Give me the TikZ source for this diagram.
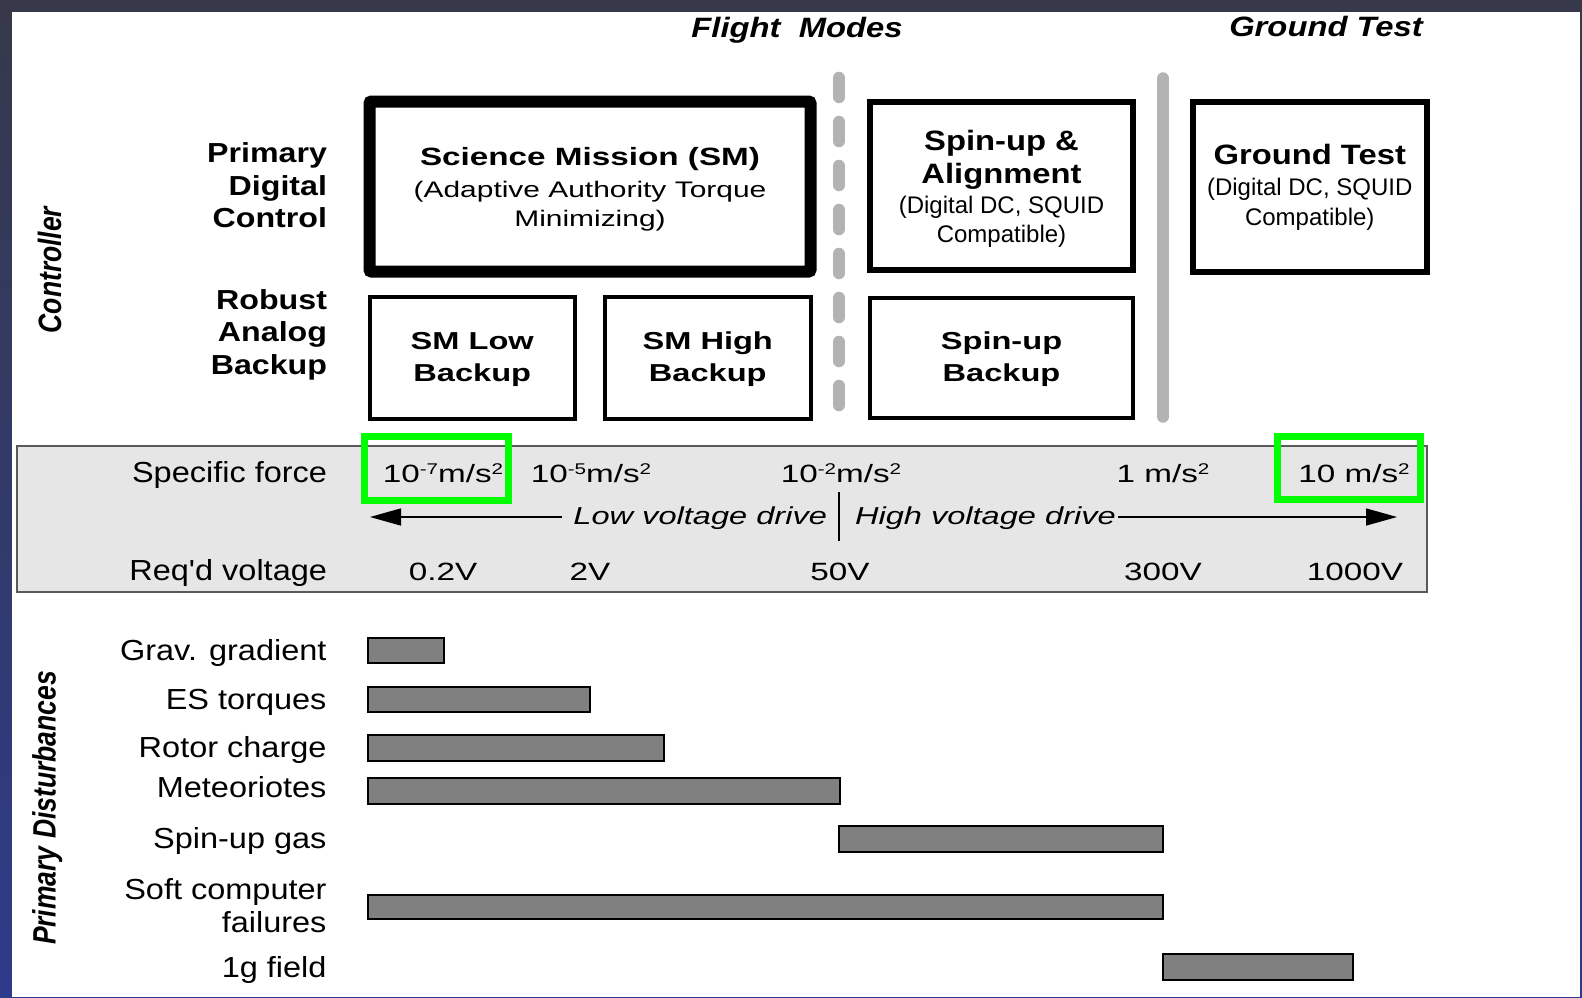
\documentclass[tikz,border=0pt]{standalone}
\usepackage{fontspec}
\setmainfont{Liberation Sans}
\newfontfamily\fA[FakeStretch=1.12]{Liberation Sans}
\newfontfamily\fB[FakeStretch=1.33]{Liberation Sans}
\newfontfamily\fC[FakeStretch=1.17]{Liberation Sans}
\newfontfamily\fD{Liberation Sans}
\usetikzlibrary{arrows.meta}
\definecolor{bgtop}{HTML}{37394A}
\definecolor{bgbot}{HTML}{2E3A8A}
\definecolor{bandgray}{HTML}{E6E6E6}
\definecolor{bandline}{HTML}{5A5A5A}
\definecolor{hlgreen}{HTML}{00FF00}
\definecolor{barfill}{HTML}{808080}
\definecolor{divgray}{HTML}{B3B3B3}
\newcommand\sups[1]{\raisebox{7.5pt}{\fontsize{15.5}{15.5}\selectfont #1}}
\newcommand\boxtitle{\fC\bfseries\fontsize{28}{29}\selectfont}
\newcommand\toprule[1]{\rule{0pt}{#1}}
\begin{document}
\begin{tikzpicture}[x=1pt,y=-1pt,
  every node/.style={inner sep=0pt, outer sep=0pt},
  lbl/.style={font={\fA\fontsize{29}{33}\selectfont}, align=right},
  sidelbl/.style={font={\fC\bfseries\fontsize{27.5}{32.5}\selectfont}, align=right, anchor=east},
  bandtxt/.style={font={\fB\fontsize{25}{25}\selectfont}, anchor=base},
  drivetxt/.style={font={\fB\itshape\fontsize{24.5}{25}\selectfont}},
  heavybox/.style={draw, line width=12pt, rounded corners=2pt, align=center},
  modebox/.style={draw, line width=6pt, align=center, font={\fD\fontsize{24}{29}\selectfont}},
  backupbox/.style={draw, line width=4pt, align=center, font={\fB\bfseries\fontsize{24.5}{32}\selectfont}},
  hlbox/.style={draw=hlgreen, line width=7pt},
  bar/.style={fill=barfill, draw=black, line width=1.5pt},
  divider/.style={divgray, line width=12.5pt, line cap=round},
  drivearrow/.style={-{Triangle[length=31pt,width=17pt]}, line width=1.5pt},
  sidetitle/.style={font={\fD\bfseries\itshape\fontsize{26.5}{27}\selectfont}, rotate=90, anchor=base},
  toptitle/.style={font={\fC\bfseries\itshape\fontsize{28}{29}\selectfont}, anchor=base}
]
\useasboundingbox (0,0) rectangle (1582,998);
% frame
\shade[top color=bgtop, bottom color=bgbot] (0,0) rectangle (1582,998);
\fill[white] (12,12) rectangle (1580,997);

% titles
\node[toptitle] (tflight) at (797,37.5) {Flight~~Modes};
\node[toptitle] (tground) at (1326,37) {Ground Test};
\node[sidetitle] (tctrl) at (61,270) {\scalebox{1}[1.22]{Controller}};
\node[sidetitle] (tdist) at (55.5,808) {\scalebox{1}[1.22]{Primary Disturbances}};

% dividers
\coordinate (d1a) at (839,78);
\coordinate (d1b) at (839,405);
\draw[divider, dash pattern=on 19pt off 25pt] (d1a) -- (d1b);
\coordinate (d2a) at (1163,78.5);
\coordinate (d2b) at (1163,416.5);
\draw[divider] (d2a) -- (d2b);

% side labels
\node[sidelbl] (lprim) at (327,185.5) {Primary\\Digital\\Control};
\node[sidelbl] (lrob) at (327,334.5) {Robust\\Analog\\Backup};

% controller boxes
\node[heavybox, minimum width=441pt, minimum height=170pt, font={\fB\fontsize{22.5}{29}\selectfont}] (sm) at (590,186.5)
  {{\bfseries\fontsize{25}{29}\selectfont\toprule{23pt}Science Mission (SM)}\\[3pt](Adaptive Authority Torque\\Minimizing)};
\node[modebox, minimum width=263pt, minimum height=168pt] (spin) at (1001.5,186)
  {{\boxtitle\toprule{25pt}Spin-up \&}\\[4pt]{\boxtitle Alignment}\\[1pt](Digital DC, SQUID\\Compatible)};
\node[modebox, minimum width=233.5pt, minimum height=170pt] (gt) at (1309.75,187)
  {{\boxtitle Ground Test}\\[2pt](Digital DC, SQUID\\[1pt]Compatible)};
\node[backupbox, minimum width=205.5pt, minimum height=121.5pt] (smlow) at (472.25,357.75) {\toprule{21pt}SM Low\\Backup};
\node[backupbox, minimum width=205.5pt, minimum height=121.5pt] (smhigh) at (707.75,357.75) {\toprule{21pt}SM High\\Backup};
\node[backupbox, minimum width=263pt, minimum height=120pt] (spinb) at (1001.5,358) {\toprule{21pt}Spin-up\\Backup};

% band
\draw[fill=bandgray, draw=bandline, line width=1.5pt] (17,446) rectangle (1427,592);
\node[hlbox, minimum width=144pt, minimum height=63.5pt] (hl1) at (436.5,468.25) {};
\node[hlbox, minimum width=143pt, minimum height=63pt] (hl2) at (1349,468) {};

\node[lbl, anchor=base east] (lsf) at (327,482) {Specific force};
\node[lbl, anchor=base east] (lrv) at (327,580) {Req'd voltage};

\node[bandtxt] (sf1) at (443,482) {10\sups{-7}m/s\sups{2}};
\node[bandtxt] (sf2) at (591,482) {10\sups{-5}m/s\sups{2}};
\node[bandtxt] (sf3) at (841,482) {10\sups{-2}m/s\sups{2}};
\node[bandtxt] (sf4) at (1163,482) {1 m/s\sups{2}};
\node[bandtxt] (sf5) at (1354,482) {10 m/s\sups{2}};

\node[bandtxt] (v1) at (443,580) {0.2V};
\node[bandtxt] (v2) at (590,580) {2V};
\node[bandtxt] (v3) at (840,580) {50V};
\node[bandtxt] (v4) at (1163,580) {300V};
\node[bandtxt] (v5) at (1355,580) {1000V};

\node[drivetxt, anchor=base east] (low) at (827,524) {Low voltage drive};
\node[drivetxt, anchor=base west] (high) at (855,524) {High voltage drive};
\coordinate (sepa) at (839,492);
\coordinate (sepb) at (839,541);
\draw[line width=2pt] (sepa) -- (sepb);
\coordinate (lstart) at (562,517);
\coordinate (ltip) at (370,517);
\coordinate (rstart) at (1118,517);
\coordinate (rtip) at (1397,517);
\draw[drivearrow] (lstart) -- (ltip);
\draw[drivearrow] (rstart) -- (rtip);

% disturbances
\node[lbl, anchor=base east] (dgrav) at (326.5,660) {Grav. gradient};
\node[lbl, anchor=base east] (des) at (326.5,709) {ES torques};
\node[lbl, anchor=base east] (drot) at (326.5,757) {Rotor charge};
\node[lbl, anchor=base east] (dmet) at (326.5,797) {Meteoriotes};
\node[lbl, anchor=base east] (dspin) at (326.5,848) {Spin-up gas};
\node[lbl, anchor=east] (dsoft) at (326.5,906) {Soft computer\\failures};
\node[lbl, anchor=base east] (dg) at (326.5,977) {1g field};

\draw[bar] (368,638) rectangle (444,663);
\draw[bar] (368,687) rectangle (590,712);
\draw[bar] (368,735) rectangle (664,761);
\draw[bar] (368,778) rectangle (840,804);
\draw[bar] (839,826) rectangle (1163,852);
\draw[bar] (368,895) rectangle (1163,919);
\draw[bar] (1163,954) rectangle (1353,980);
\end{tikzpicture}
\end{document}
